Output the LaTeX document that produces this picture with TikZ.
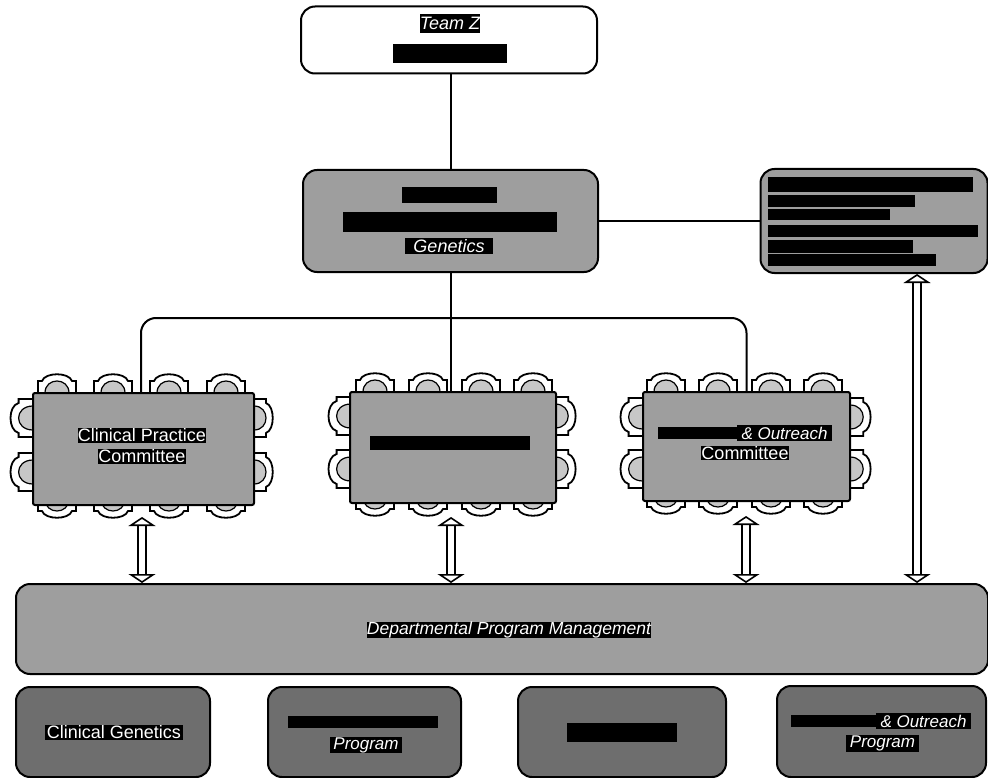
\documentclass[tikz,border=0pt]{standalone}
\usepackage{fontspec}
\setmainfont{Liberation Sans}
\usetikzlibrary{arrows.meta}
\definecolor{midgrey}{gray}{0.62}
\definecolor{darkgrey}{gray}{0.43}
\definecolor{seatgrey}{gray}{0.78}
\tikzset{
  x=1pt,y=-1pt,
  orgbox/.style={draw=black,line width=2pt,rounded corners=14pt,inner sep=0pt},
  plainbox/.style={orgbox,fill=white},
  greybox/.style={orgbox,fill=midgrey},
  darkbox/.style={orgbox,fill=darkgrey},
  tablebox/.style={draw=black,line width=2pt,fill=midgrey,rounded corners=2pt,inner sep=0pt},
  label bar/.style={fill=black,text=white,inner sep=0pt,font=\fontsize{18}{18}\selectfont},
  link/.style={draw=black,line width=2pt},
  twoway/.style={draw=black,line width=1.6pt,double=white,double distance=6pt,
    {Triangle[open,fill=white,length=9pt,width=27pt,line width=1.6pt]}-{Triangle[open,fill=white,length=9pt,width=27pt,line width=1.6pt]}},
  pics/chair/.style={code={
    \draw[line width=1.8pt,fill=white] (-19,0) -- (-19,-12) -- (-15,-12) .. controls (-12,-21) and (12,-21) .. (15,-12) -- (19,-12) -- (19,0) -- cycle;
    \draw[line width=1.2pt,fill=seatgrey] (-12,0) .. controls (-12,-16) and (12,-16) .. (12,0) -- cycle;
  }}
}
% name, x1, y1, x2, y2, text, extra options
\newcommand{\lbar}[7][]{%
  \pgfmathsetmacro{\cxv}{(#3+#5)/2}\pgfmathsetmacro{\cyv}{(#4+#6)/2}%
  \pgfmathsetmacro{\wv}{#5-#3}\pgfmathsetmacro{\hv}{#6-#4}%
  \node[label bar,minimum width=\wv pt,minimum height=\hv pt,#1] (#2) at (\cxv,\cyv) {#7};}
\newcommand{\chairset}[9]{%
  \foreach \cx in {#1,#2,#3,#4}{%
    \pic at (\cx,#7) {chair};
    \pic[rotate=180] at (\cx,#8-6) {chair};}
  \foreach \cy in {#5,#6}{%
    \pic[rotate=90,yscale=1.2] at (#9,\cy) {chair};}
}
\begin{document}
\begin{tikzpicture}
\useasboundingbox (0,0) rectangle (988,778);

% chairs, behind the tables
\chairset{57}{113}{169}{226}{418}{472}{393}{505}{33}
\foreach \cy in {418,472}{\pic[rotate=-90] at (254,\cy) {chair};}
\chairset{375}{428}{481}{533}{416}{469}{392}{503}{351}
\foreach \cy in {416,469}{\pic[rotate=-90,yscale=1.1] at (555,\cy) {chair};}
\chairset{666}{718}{771}{823}{417}{469}{392}{501}{643}
\foreach \cy in {417,469}{\pic[rotate=-90,yscale=1.1] at (850,\cy) {chair};}

% boxes
\node[plainbox,minimum width=296pt,minimum height=67pt] (team) at (449,40) {};
\node[greybox,minimum width=295pt,minimum height=102pt] (dept) at (450.5,221) {};
\node[greybox,minimum width=227pt,minimum height=104pt] (side) at (874,221) {};
\node[tablebox,minimum width=221pt,minimum height=112pt] (tone) at (143.5,449) {};
\node[tablebox,minimum width=206pt,minimum height=111pt] (ttwo) at (453,447.5) {};
\node[tablebox,minimum width=207pt,minimum height=109pt] (tthree) at (746.5,446.5) {};
\node[greybox,minimum width=972pt,minimum height=90pt] (mgmt) at (502,629) {};
\node[darkbox,minimum width=194pt,minimum height=90pt] (pone) at (113,732) {};
\node[darkbox,minimum width=193pt,minimum height=90pt] (ptwo) at (364.5,732) {};
\node[darkbox,minimum width=208pt,minimum height=90pt] (pthree) at (622,732) {};
\node[darkbox,minimum width=209pt,minimum height=91pt] (pfour) at (881.5,731.5) {};

% solid connectors
\draw[link] (dept.north |- team.south) -- (dept.north);
\draw[link] (dept.east) -- (side.west);
\draw[link] (dept.south) -- (dept.south |- ttwo.north);
\coordinate (branch) at (450,318);
\draw[link,rounded corners=15pt] ([xshift=-2.5pt]tone.north) |- (branch) -| (tthree.north);

% two-way arrows
\coordinate (aone) at (142,517);
\coordinate (atwo) at (451,517);
\coordinate (athree) at (746,516);
\coordinate (afour) at (917,274);
\draw[twoway] (aone) -- (aone |- mgmt.north);
\draw[twoway] (atwo) -- (atwo |- mgmt.north);
\draw[twoway] (athree) -- (athree |- mgmt.north);
\draw[twoway] (afour) -- (afour |- mgmt.north);

% labels
\lbar[font=\fontsize{18}{18}\selectfont\itshape]{lteam}{422}{14}{478}{33}{Team Z}
\lbar{lteamb}{393}{44}{507}{63}{}
\lbar{ldepta}{402}{187}{497}{203}{}
\lbar{ldeptb}{343}{212}{557}{232}{}
\lbar[font=\fontsize{18}{18}\selectfont\itshape]{ldeptc}{405}{238}{493}{254}{Genetics}
\lbar{lsa}{768}{177}{973}{192}{}
\lbar{lsb}{768}{195}{915}{207}{}
\lbar{lsc}{768}{209}{890}{220}{}
\lbar{lsd}{768}{225}{978}{237}{}
\lbar{lse}{768}{240}{913}{253}{}
\lbar{lsf}{768}{254}{936}{266}{}
\lbar{ltonea}{78}{428}{206}{443}{Clinical Practice}
\lbar{ltoneb}{98}{449}{186}{464}{Committee}
\lbar{lttwo}{370}{436}{530}{450}{}
\lbar{ltthra}{658}{427}{737}{439}{}
\lbar[font=\fontsize{17}{17}\selectfont\itshape]{ltthrb}{737}{425}{832}{441}{\& Outreach}
\lbar{ltthrc}{702}{446}{788}{460}{Committee}
\lbar[font=\fontsize{17.5}{18}\selectfont\itshape]{lmgmt}{367}{622}{651}{638}{Departmental Program Management}
\lbar{lpone}{45}{725}{183}{740}{Clinical Genetics}
\lbar{lptwoa}{288}{716}{438}{728}{}
\lbar[font=\fontsize{17}{17}\selectfont\itshape]{lptwob}{330}{737}{402}{753}{Program}
\lbar{lpthree}{567}{723}{677}{742}{}
\lbar{lpfoura}{791}{715}{876}{727}{}
\lbar[font=\fontsize{17}{17}\selectfont\itshape]{lpfourb}{876}{713}{971}{729}{\& Outreach}
\lbar[font=\fontsize{17}{17}\selectfont\itshape]{lpfourc}{846}{735}{919}{752}{Program}
\end{tikzpicture}
\end{document}
